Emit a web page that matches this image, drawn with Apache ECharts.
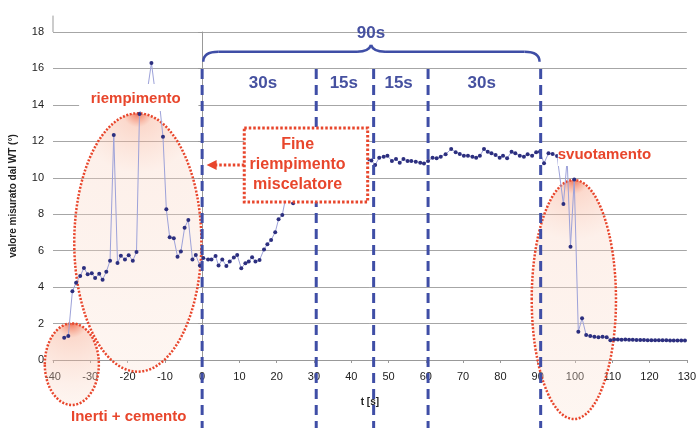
<!DOCTYPE html>
<html>
<head>
<meta charset="utf-8">
<script src="https://cdn.jsdelivr.net/npm/echarts@6/dist/echarts.min.js"></script>
<style>
html, body { margin: 0; padding: 0; background: #fff; }
#chart { width: 699px; height: 428px; }
</style>
</head>
<body>
<div id="chart"></div>
<script>
// tempo [s] e valore misurato dal WT
var times = [
  -37.0, -35.9, -34.8, -33.8, -32.7, -31.7, -30.7, -29.6, -28.7, -27.6,
  -26.7, -25.7, -24.7, -23.7, -22.7, -21.8, -20.7, -19.7, -18.6, -17.6,
  -16.8, -15.7, -14.6, -13.6, -12.6, -11.5, -10.5, -9.6, -8.7, -7.6,
  -6.6, -5.7, -4.7, -3.7, -2.6, -1.7, -0.6, 0.3, 1.6, 2.5,
  3.6, 4.4, 5.4, 6.5, 7.4, 8.5, 9.4, 10.5, 11.6, 12.5,
  13.4, 14.3, 15.4, 16.6, 17.5, 18.5, 19.6, 20.5, 21.5, 22.5,
  23.4, 24.4, 25.3, 26.3, 27.3, 28.3, 29.3, 30.3, 31.3, 32.3,
  33.3, 34.3, 35.3, 36.3, 37.3, 38.3, 39.3, 40.3, 41.3, 42.3,
  43.3, 44.4, 45.4, 46.4, 47.5, 48.7, 49.7, 50.9, 52.0, 53.0,
  54.0, 55.1, 56.1, 57.3, 58.5, 59.5, 60.6, 61.8, 62.9, 64.0,
  65.3, 66.8, 68.0, 69.1, 70.2, 71.3, 72.5, 73.5, 74.5, 75.6,
  76.6, 77.6, 78.7, 79.8, 80.7, 81.8, 83.0, 84.0, 85.2, 86.3,
  87.3, 88.5, 89.6, 90.6, 91.7, 92.9, 94.0, 95.2, 96.9, 97.9,
  98.8, 99.8, 100.9, 101.9, 103.0, 104.1, 105.2, 106.3, 107.4, 108.5,
  109.5, 110.5, 111.5, 112.5, 113.5, 114.5, 115.5, 116.5, 117.5, 118.5,
  119.5, 120.5, 121.5, 122.5, 123.5, 124.5, 125.5, 126.5, 127.5, 128.5, 129.5
];
var values = [
  1.22, 1.32, 3.77, 4.24, 4.61, 5.05, 4.70, 4.76, 4.50, 4.73,
  4.41, 4.84, 5.45, 12.35, 5.32, 5.72, 5.52, 5.75, 5.45, 5.93,
  13.5, 14.3, 14.9, 16.3, 14.7, 14.2, 12.25, 8.27, 6.73, 6.68,
  5.67, 5.95, 7.26, 7.68, 5.52, 5.76, 5.18, 5.6, 5.52, 5.52,
  5.71, 5.18, 5.52, 5.16, 5.40, 5.62, 5.76, 5.03, 5.31, 5.40,
  5.64, 5.40, 5.49, 6.07, 6.35, 6.59, 7.01, 7.72, 7.96, 9.0,
  9.3, 8.6, 9.2, 9.5, 9.8, 10.1, 10.3, 10.5, 10.6, 10.8,
  10.9, 10.9, 11.0, 11.0, 11.1, 11.0, 11.1, 11.0, 11.0, 11.1,
  10.9, 11.0, 10.95, 10.7, 11.1, 11.16, 11.21, 10.92, 11.03, 10.83,
  11.03, 10.92, 10.92, 10.88, 10.83, 10.79, 10.92, 11.1, 11.07, 11.16,
  11.29, 11.58, 11.4, 11.31, 11.21, 11.21, 11.16, 11.1, 11.21, 11.58,
  11.43, 11.34, 11.25, 11.1, 11.21, 11.07, 11.43, 11.34, 11.21, 11.16,
  11.29, 11.21, 11.4, 11.43, 10.8, 11.34, 11.3, 11.2, 8.56, 11.0,
  6.22, 9.9, 1.55, 2.29, 1.37, 1.32, 1.27, 1.25, 1.27, 1.25,
  1.08, 1.12, 1.12, 1.11, 1.12, 1.11, 1.11, 1.10, 1.10, 1.10,
  1.09, 1.09, 1.08, 1.08, 1.08, 1.08, 1.07, 1.07, 1.07, 1.07, 1.07
];

// fasi del ciclo
var phaseLines = [0, 30.6, 46, 60.6, 90.8];
var phaseLabels = ['30s', '15s', '15s', '30s'];
var phaseLabelX = [16.3, 38.0, 52.7, 75.0];

var RED = '#e8462c';
var BLUE = '#3f4ea6';
var FONT = '"Liberation Sans", Arial, sans-serif';

var seriesData = times.map(function (t, i) { return [t, values[i]]; });

var chart = echarts.init(document.getElementById('chart'));

chart.setOption({
  animation: false,
  backgroundColor: '#fff',
  grid: { left: 51, right: 12, top: 32, bottom: 68 },
  xAxis: {
    type: 'value', min: -40, max: 130, interval: 10,
    name: 't [s]', nameLocation: 'middle', nameGap: 37,
    nameTextStyle: { fontFamily: FONT, fontSize: 10, fontWeight: 'bold', color: '#222' },
    axisLine: { lineStyle: { color: '#999' } },
    axisTick: { show: true, length: 3, lineStyle: { color: '#999' } },
    axisLabel: { fontFamily: FONT, fontSize: 11, color: '#222', margin: 11 },
    splitLine: { show: false }
  },
  yAxis: {
    type: 'value', min: 0, max: 18, interval: 2,
    name: 'valore misurato dal WT (°)', nameLocation: 'middle', nameGap: 35, nameRotate: 90,
    nameTextStyle: { fontFamily: FONT, fontSize: 10, fontWeight: 'bold', color: '#222' },
    axisLine: { show: true, lineStyle: { color: '#999' } },
    axisTick: { show: true, length: 4, lineStyle: { color: '#999' } },
    axisLabel: { fontFamily: FONT, fontSize: 11, color: '#222', margin: 9 },
    splitLine: { show: true, lineStyle: { color: '#a6a6a6', width: 1 } }
  },
  series: [{
    type: 'line',
    data: seriesData,
    symbol: 'circle',
    symbolSize: 4,
    itemStyle: { color: '#2c2f7f' },
    lineStyle: { color: '#9da2d9', width: 1 },
    z: 3
  }]
});

function px(t, v) { return chart.convertToPixel({ gridIndex: 0 }, [t, v]); }

function spot(w, h) {
  var m = Math.min(w, h);
  var k = h; // distanza dall'apice al fondo
  function s(d) { return Math.min(1, d / k); }
  return new echarts.graphic.RadialGradient(0.5, 0, k / m, [
    { offset: 0, color: 'rgba(232,45,20,0.95)' },
    { offset: s(4), color: 'rgba(240,95,60,0.7)' },
    { offset: s(15), color: 'rgba(246,165,135,0.42)' },
    { offset: s(60), color: 'rgba(249,210,192,0.33)' },
    { offset: 1, color: 'rgba(251,228,214,0.33)' }
  ]);
}

function ellipseEl(t0, t1, vTop, vBot) {
  var a = px(t0, vTop), b = px(t1, vBot);
  var w = b[0] - a[0], h = b[1] - a[1];
  return {
    type: 'ellipse', z: 1,
    shape: { cx: (a[0] + b[0]) / 2, cy: (a[1] + b[1]) / 2, rx: w / 2, ry: h / 2 },
    style: { fill: spot(w, h), stroke: RED, lineWidth: 2.5, lineDash: [2, 1.6] }
  };
}

function textEl(str, t, v, size, color, z) {
  var p = px(t, v);
  return {
    type: 'text', z: z || 12,
    style: {
      text: str, x: p[0], y: p[1], fill: color,
      font: 'bold ' + size + 'px ' + FONT,
      textAlign: 'center', textVerticalAlign: 'middle', verticalAlign: 'middle'
    }
  };
}

function rectEl(t0, t1, vTop, vBot, style, z) {
  var a = px(t0, vTop), b = px(t1, vBot);
  return {
    type: 'rect', z: z,
    shape: { x: a[0], y: a[1], width: b[0] - a[0], height: b[1] - a[1] },
    style: style
  };
}

var H = chart.getHeight();
var g = [];

// prolungamento dell'asse y sopra 18
var ax0 = px(-40, 18), ax1 = px(-40, 18.9);
g.push({ type: 'line', z: 2, shape: { x1: ax0[0], y1: ax0[1], x2: ax1[0], y2: ax1[1] }, style: { stroke: '#999', lineWidth: 1 } });

// ellissi
g.push(ellipseEl(-42.2, -27.7, 2.01, -2.47));
g.push(ellipseEl(-34.3, -0.2, 13.54, -0.64));
g.push(ellipseEl(88.4, 111.0, 9.88, -3.24));

// linee tratteggiate delle fasi
phaseLines.forEach(function (t) {
  var p = px(t, 15.97);
  g.push({
    type: 'line', z: 6,
    shape: { x1: p[0], y1: p[1], x2: p[0], y2: H },
    style: { stroke: BLUE, lineWidth: 3, lineDash: [10, 6] }
  });
});

// parentesi graffa 90s
var L = px(0.3, 16.37), R = px(90.5, 16.37), C = px(45.3, 17.29);
var yl = px(0, 16.92)[1];
var braceStyle = { stroke: BLUE, lineWidth: 2.5, fill: null };
g.push({ type: 'bezierCurve', z: 6, shape: { x1: L[0], y1: L[1], cpx1: L[0], cpy1: yl, x2: L[0] + 15, y2: yl }, style: braceStyle });
g.push({ type: 'line', z: 6, shape: { x1: L[0] + 15, y1: yl, x2: C[0] - 14, y2: yl }, style: braceStyle });
g.push({ type: 'bezierCurve', z: 6, shape: { x1: C[0] - 14, y1: yl, cpx1: C[0] - 2, cpy1: yl, x2: C[0], y2: C[1] }, style: braceStyle });
g.push({ type: 'bezierCurve', z: 6, shape: { x1: C[0], y1: C[1], cpx1: C[0] + 2, cpy1: yl, x2: C[0] + 14, y2: yl }, style: braceStyle });
g.push({ type: 'line', z: 6, shape: { x1: C[0] + 14, y1: yl, x2: R[0] - 15, y2: yl }, style: braceStyle });
g.push({ type: 'bezierCurve', z: 6, shape: { x1: R[0] - 15, y1: yl, cpx1: R[0], cpy1: yl, x2: R[0], y2: R[1] }, style: braceStyle });
g.push(textEl('90s', 45.3, 17.95, 17, '#4651a0'));
phaseLabels.forEach(function (s, i) {
  g.push(textEl(s, phaseLabelX[i], 15.19, 17, '#4651a0'));
});

// box "Fine riempimento miscelatore"
g.push(rectEl(11.3, 44.4, 12.73, 8.67, { fill: '#fff', stroke: RED, lineWidth: 3, lineDash: [2.5, 2] }, 10));
g.push(textEl('Fine', 25.6, 11.8, 16, RED));
g.push(textEl('riempimento', 25.6, 10.7, 16, RED));
g.push(textEl('miscelatore', 25.6, 9.6, 16, RED));
// freccia
var a0 = px(11.3, 10.7), a1 = px(1.2, 10.7);
g.push({ type: 'line', z: 10, shape: { x1: a0[0], y1: a0[1], x2: a1[0] + 8, y2: a1[1] }, style: { stroke: RED, lineWidth: 3, lineDash: [2.5, 2] } });
g.push({ type: 'polygon', z: 10, shape: { points: [[a1[0], a1[1]], [a1[0] + 10, a1[1] - 5], [a1[0] + 10, a1[1] + 5]] }, style: { fill: RED } });

// etichette rosse
g.push(rectEl(-33.0, -1.0, 15.15, 13.67, { fill: '#fff' }, 9));
g.push(textEl('riempimento', -17.8, 14.32, 15, RED));
g.push(rectEl(95.4, 121.5, 11.85, 10.65, { fill: '#fff' }, 9));
g.push(textEl('svuotamento', 107.9, 11.25, 15, RED));
g.push(textEl('Inerti + cemento', -19.7, -3.13, 15, RED));

chart.setOption({ graphic: g });
</script>
</body>
</html>
